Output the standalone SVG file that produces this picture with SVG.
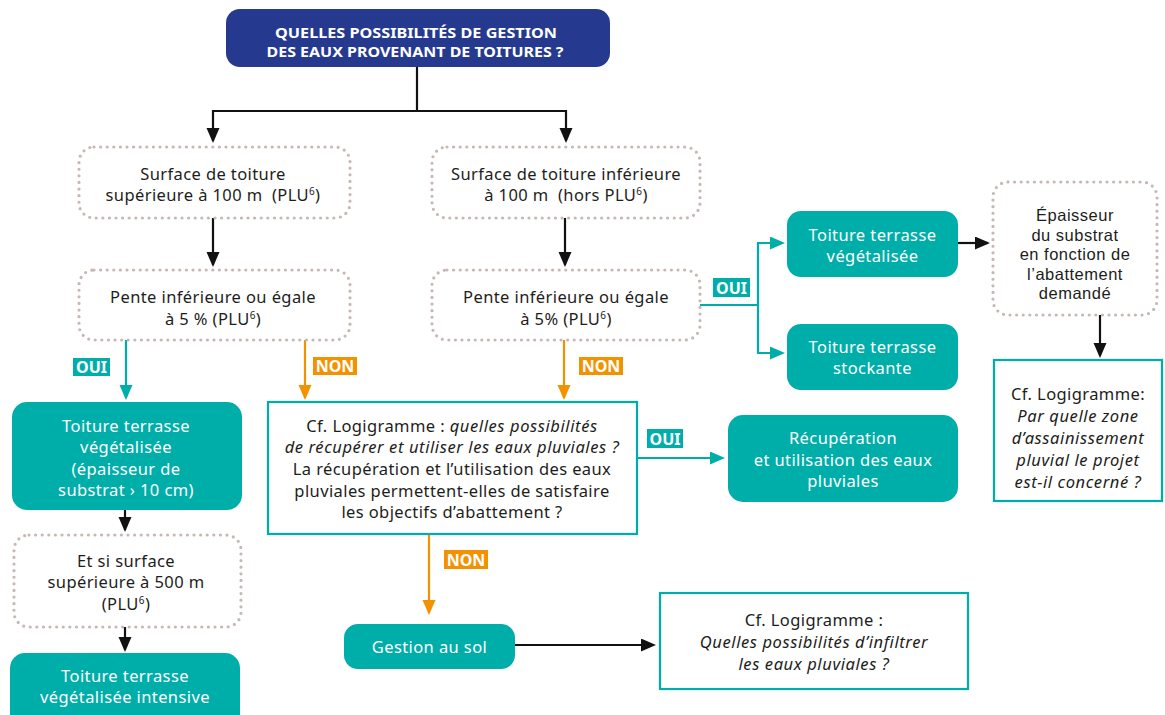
<svg xmlns="http://www.w3.org/2000/svg" width="1165" height="715" viewBox="0 0 1165 715">
<defs>
<style>
.t{font-family:"Noto Sans","Open Sans","DejaVu Sans",sans-serif;font-size:16.5px;letter-spacing:0.4px;fill:#1d1d1b;text-anchor:middle}
.w{fill:#ffffff}
.i{font-style:italic;letter-spacing:0.6px}
.s{font-family:"Liberation Sans",Arial,sans-serif;font-size:16.5px;letter-spacing:0.5px}
.title{font-family:"Noto Sans","DejaVu Sans",sans-serif;font-weight:bold;font-size:15px;fill:#ffffff;text-anchor:middle}
.lab{font-family:"Noto Sans","DejaVu Sans",sans-serif;font-weight:bold;font-size:16px;fill:#ffffff;text-anchor:middle}
.dot{fill:#ffffff;stroke:#c6b8b3;stroke-width:3.2;stroke-dasharray:0 6.6;stroke-linecap:round}
.teal{fill:#00aea9}
.frame{fill:#ffffff;stroke:#00aea9;stroke-width:2.2}
.kb{fill:none;stroke:#111111;stroke-width:2.2}
.kt{fill:none;stroke:#00aea9;stroke-width:2.2}
.ko{fill:none;stroke:#f39200;stroke-width:2.2}
.sup{font-size:10px}
</style>
<marker id="ab" markerUnits="userSpaceOnUse" markerWidth="16" markerHeight="14" refX="13" refY="6.5" orient="auto"><path d="M0,0 L15,6.5 L0,13 z" fill="#111111"/></marker>
<marker id="at" markerUnits="userSpaceOnUse" markerWidth="16" markerHeight="14" refX="13" refY="6.5" orient="auto"><path d="M0,0 L15,6.5 L0,13 z" fill="#00aea9"/></marker>
<marker id="ao" markerUnits="userSpaceOnUse" markerWidth="16" markerHeight="14" refX="13" refY="6.5" orient="auto"><path d="M0,0 L15,6.5 L0,13 z" fill="#f39200"/></marker>
</defs>

<g id="connectors">
<polyline class="kb" points="417,67 417,111 213,111 213,141" marker-end="url(#ab)"/>
<polyline class="kb" points="417,111 566,111 566,141" marker-end="url(#ab)"/>
<line class="kb" x1="213" y1="218" x2="213" y2="265" marker-end="url(#ab)"/>
<line class="kb" x1="565" y1="218" x2="565" y2="265" marker-end="url(#ab)"/>
<line class="kt" x1="126" y1="340" x2="126" y2="398" marker-end="url(#at)"/>
<line class="ko" x1="305" y1="340" x2="305" y2="398" marker-end="url(#ao)"/>
<line class="ko" x1="564" y1="340" x2="564" y2="398" marker-end="url(#ao)"/>
<polyline class="kt" points="700,305 758,305 758,243 783,243" marker-end="url(#at)"/>
<polyline class="kt" points="758,305 758,353 783,353" marker-end="url(#at)"/>
<line class="kb" x1="958" y1="243" x2="988" y2="243" marker-end="url(#ab)"/>
<line class="kb" x1="1100" y1="315" x2="1100" y2="356" marker-end="url(#ab)"/>
<line class="kt" x1="637" y1="458" x2="723" y2="458" marker-end="url(#at)"/>
<line class="ko" x1="429" y1="534" x2="429" y2="613" marker-end="url(#ao)"/>
<line class="kb" x1="515" y1="645" x2="654" y2="645" marker-end="url(#ab)"/>
<line class="kb" x1="125" y1="510" x2="125" y2="530" marker-end="url(#ab)"/>
<line class="kb" x1="125" y1="627" x2="125" y2="650" marker-end="url(#ab)"/>
</g>

<g id="labels">
<rect x="73" y="358" width="37" height="18" fill="#00aea9"/><text class="lab" x="91.5" y="373">OUI</text>
<rect x="313" y="357" width="44" height="18" fill="#f39200"/><text class="lab" x="335" y="372">NON</text>
<rect x="579" y="357" width="44" height="18" fill="#f39200"/><text class="lab" x="601" y="372">NON</text>
<rect x="713" y="278" width="37" height="19" fill="#00aea9"/><text class="lab" x="731.5" y="293.5">OUI</text>
<rect x="647" y="429" width="36" height="19" fill="#00aea9"/><text class="lab" x="665" y="444.5">OUI</text>
<rect x="444" y="550" width="44" height="19" fill="#f39200"/><text class="lab" x="466" y="565.5">NON</text>
</g>

<g id="n-title">
<rect x="226" y="9" width="384" height="58" rx="14" fill="#253a8e"/>
<text class="title" x="416" y="38" textLength="282" lengthAdjust="spacingAndGlyphs">QUELLES POSSIBILITÉS DE GESTION</text>
<text class="title" x="415" y="57" textLength="297" lengthAdjust="spacingAndGlyphs">DES EAUX PROVENANT DE TOITURES ?</text>
</g>

<g id="n-surf-sup">
<rect class="dot" x="79" y="147" width="271" height="71" rx="15"/>
<text class="t" x="213" y="180">Surface de toiture</text>
<text class="t" x="213" y="201">supérieure à 100 m&#160;&#160;(PLU<tspan class="sup" dy="-6">6</tspan><tspan dy="6">)</tspan></text>
</g>

<g id="n-surf-inf">
<rect class="dot" x="432" y="147" width="268" height="71" rx="15"/>
<text class="t" x="566" y="180">Surface de toiture inférieure</text>
<text class="t" x="566" y="201">à 100 m&#160;&#160;(hors PLU<tspan class="sup" dy="-6">6</tspan><tspan dy="6">)</tspan></text>
</g>

<g id="n-pente-g">
<rect class="dot" x="79" y="270" width="271" height="70" rx="15"/>
<text class="t" x="213" y="303">Pente inférieure ou égale</text>
<text class="t" x="213" y="325">à 5 % (PLU<tspan class="sup" dy="-6">6</tspan><tspan dy="6">)</tspan></text>
</g>

<g id="n-pente-d">
<rect class="dot" x="432" y="270" width="268" height="70" rx="15"/>
<text class="t" x="566" y="303">Pente inférieure ou égale</text>
<text class="t" x="566" y="325">à 5% (PLU<tspan class="sup" dy="-6">6</tspan><tspan dy="6">)</tspan></text>
</g>

<g id="n-ttv-d">
<rect class="teal" x="787" y="211" width="171" height="66" rx="14"/>
<text class="t w" x="872.5" y="241">Toiture terrasse</text>
<text class="t w" x="872.5" y="262">végétalisée</text>
</g>

<g id="n-tts">
<rect class="teal" x="787" y="324" width="171" height="66" rx="14"/>
<text class="t w" x="872.5" y="353">Toiture terrasse</text>
<text class="t w" x="872.5" y="374">stockante</text>
</g>

<g id="n-epaisseur">
<rect class="dot" x="993" y="182" width="164" height="133" rx="15"/>
<text class="t s" x="1075" y="221">Épaisseur</text>
<text class="t s" x="1075" y="240.5">du substrat</text>
<text class="t s" x="1075" y="260">en fonction de</text>
<text class="t s" x="1075" y="279.5">l’abattement</text>
<text class="t s" x="1075" y="299">demandé</text>
</g>

<g id="n-cf-zone">
<rect class="frame" x="994" y="360" width="168" height="141"/>
<text class="t" x="1078" y="400">Cf. Logigramme:</text>
<text class="t i" x="1078" y="422">Par quelle zone</text>
<text class="t i" x="1078" y="444">d’assainissement</text>
<text class="t i" x="1078" y="466">pluvial le projet</text>
<text class="t i" x="1078" y="488">est-il concerné ?</text>
</g>

<g id="n-ttv-g">
<rect class="teal" x="12" y="402" width="230" height="108" rx="15"/>
<text class="t w" x="126" y="432">Toiture terrasse</text>
<text class="t w" x="126" y="453">végétalisée</text>
<text class="t w" x="126" y="475">(épaisseur de</text>
<text class="t w" x="126" y="496">substrat › 10 cm)</text>
</g>

<g id="n-500">
<rect class="dot" x="14" y="535" width="227" height="92" rx="15"/>
<text class="t" x="126" y="567">Et si surface</text>
<text class="t" x="126" y="588">supérieure à 500 m</text>
<text class="t" x="126" y="610">(PLU<tspan class="sup" dy="-6">6</tspan><tspan dy="6">)</tspan></text>
</g>

<g id="n-intensive">
<rect class="teal" x="10" y="653" width="230" height="80" rx="15"/>
<text class="t w" x="125" y="682">Toiture terrasse</text>
<text class="t w" x="125" y="703">végétalisée intensive</text>
</g>

<g id="n-cf-recup">
<rect class="frame" x="268" y="402" width="369" height="132"/>
<text class="t" x="452" y="432">Cf. Logigramme : <tspan class="i">quelles possibilités</tspan></text>
<text class="t i" x="452" y="453">de récupérer et utiliser les eaux pluviales ?</text>
<text class="t" x="452" y="475">La récupération et l’utilisation des eaux</text>
<text class="t" x="452" y="497">pluviales permettent-elles de satisfaire</text>
<text class="t" x="452" y="518">les objectifs d’abattement ?</text>
</g>

<g id="n-recup">
<rect class="teal" x="728" y="415" width="230" height="87" rx="15"/>
<text class="t w" x="843" y="444">Récupération</text>
<text class="t w" x="843" y="466">et utilisation des eaux</text>
<text class="t w" x="843" y="487">pluviales</text>
</g>

<g id="n-sol">
<rect class="teal" x="344" y="624" width="171" height="45" rx="14"/>
<text class="t w" x="429.5" y="653">Gestion au sol</text>
</g>

<g id="n-cf-infiltrer">
<rect class="frame" x="660" y="593" width="308" height="96"/>
<text class="t" x="814" y="626">Cf. Logigramme :</text>
<text class="t i" x="814" y="648">Quelles possibilités d’infiltrer</text>
<text class="t i" x="814" y="670">les eaux pluviales ?</text>
</g>
</svg>
